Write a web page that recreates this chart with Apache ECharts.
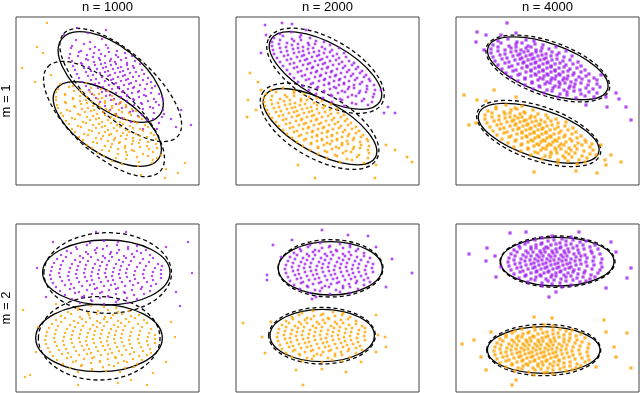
<!DOCTYPE html>
<html>
<head>
<meta charset="utf-8">
<script src="https://cdn.jsdelivr.net/npm/echarts@6/dist/echarts.min.js"></script>
<style>
  html, body { margin: 0; padding: 0; background: #fff; }
  #chart { width: 640px; height: 393px; }
</style>
</head>
<body>
<div id="chart"></div>
<script>
// panel labels
const colLabels = ["n = 1000", "n = 2000", "n = 4000"];
const rowLabels = ["m = 1", "m = 2"];

// points, panel units (x 0..183, y 0..168)
const pur_m1_n1000 = [[60,145],[74,143],[86,146],[56,139],[68,141],[79,138],[90,140],[55,137],[65,134],[74,136],[83,135],[92,137],[101,134],[54,131],[63,133],[71,130],[78,132],[85,131],[93,133],[100,130],[109,132],[53,127],[62,129],[70,126],[77,128],[83,127],[89,129],[95,126],[102,128],[110,127],[116,129],[56,124],[65,122],[72,125],[78,123],[84,125],[89,122],[94,124],[99,123],[105,125],[111,122],[119,124],[57,119],[66,121],[73,118],[79,120],[85,121],[90,118],[95,120],[100,121],[105,118],[111,120],[117,119],[124,121],[59,115],[68,117],[75,114],[81,116],[87,117],[92,114],[97,116],[102,117],[107,114],[112,116],[118,117],[126,115],[61,111],[70,113],[77,110],[84,112],[89,113],[94,110],[99,112],[104,113],[109,110],[114,112],[120,113],[128,111],[63,107],[72,109],[80,106],[86,108],[92,109],[97,106],[102,108],[107,109],[112,106],[117,108],[123,109],[132,107],[66,103],[75,105],[83,102],[89,104],[95,105],[100,102],[105,104],[110,105],[115,102],[120,104],[127,105],[135,103],[70,99],[79,101],[87,98],[93,100],[98,101],[103,98],[108,100],[113,101],[118,98],[124,100],[131,101],[139,99],[73,95],[82,97],[90,94],[96,96],[102,97],[107,94],[112,96],[117,97],[123,94],[129,96],[136,97],[76,91],[86,93],[94,90],[100,92],[106,93],[111,90],[116,92],[122,93],[128,90],[135,92],[143,91],[80,87],[90,89],[98,86],[105,88],[111,89],[117,86],[123,88],[130,89],[138,86],[146,88],[84,83],[95,85],[104,82],[111,84],[118,85],[125,82],[132,84],[140,83],[147,85],[89,79],[100,81],[110,78],[118,80],[126,81],[134,78],[143,80],[94,75],[106,77],[117,74],[127,76],[137,77],[147,75],[100,71],[114,73],[126,70],[138,72],[148,71],[106,67],[122,69],[137,66],[146,68],[115,63],[131,65],[143,62],[175,60],[61,157],[72,152],[160,58],[155,66],[48,150],[127,56],[141,56],[165,75],[90,155]];
const org_m1_n1000 = [[44,101],[57,99],[70,102],[42,96],[53,98],[64,95],[75,97],[85,96],[40,93],[49,91],[58,94],[66,92],[74,93],[83,91],[92,94],[40,88],[49,90],[57,87],[64,89],[71,88],[78,90],[86,87],[96,89],[40,85],[49,83],[57,86],[64,84],[70,85],[76,83],[82,86],[89,84],[97,85],[105,83],[41,80],[50,82],[58,79],[65,81],[71,82],[77,79],[83,81],[89,82],[96,79],[103,81],[110,80],[42,77],[51,75],[59,78],[66,76],[72,77],[78,75],[84,78],[90,76],[96,77],[103,75],[110,78],[116,76],[45,72],[54,74],[62,71],[69,73],[75,74],[81,71],[87,73],[93,74],[99,71],[106,73],[113,72],[120,74],[47,69],[56,67],[64,70],[71,68],[77,69],[83,67],[89,70],[95,68],[101,69],[108,67],[115,70],[123,68],[50,64],[59,66],[67,63],[74,65],[80,66],[86,63],[92,65],[98,66],[104,63],[111,65],[118,64],[126,66],[53,61],[62,59],[70,62],[77,60],[83,61],[89,59],[95,62],[101,60],[107,61],[114,59],[121,62],[129,60],[56,56],[65,58],[73,55],[80,57],[86,58],[92,55],[98,57],[104,58],[110,55],[117,57],[124,56],[132,58],[59,53],[68,51],[76,54],[83,52],[89,53],[95,51],[101,54],[107,52],[113,53],[120,51],[127,54],[135,52],[63,48],[72,50],[80,47],[87,49],[93,50],[99,47],[105,49],[111,50],[117,47],[124,49],[131,48],[138,50],[67,45],[77,43],[85,46],[92,44],[98,45],[104,43],[110,46],[117,44],[124,45],[132,43],[140,46],[71,40],[81,42],[89,39],[96,41],[103,42],[109,39],[116,41],[123,42],[131,39],[140,41],[76,37],[86,35],[95,38],[102,36],[109,37],[116,35],[124,38],[133,36],[141,37],[82,32],[93,34],[102,31],[110,33],[118,34],[127,31],[137,33],[88,29],[100,27],[111,30],[121,28],[132,29],[141,27],[96,24],[110,26],[123,23],[137,25],[106,21],[122,19],[136,22],[31,162],[6,117],[21,138],[19,103],[27,132],[149,7],[169,22],[162,12],[150,16],[35,110],[125,10],[145,30]];
const pur_m1_n2000 = [[44,151],[55,153],[65,150],[38,147],[47,149],[56,146],[64,148],[74,147],[36,143],[44,145],[51,142],[58,144],[65,145],[72,142],[80,144],[88,143],[36,139],[43,141],[50,138],[56,140],[62,141],[67,138],[73,140],[79,141],[86,138],[94,140],[37,135],[44,137],[51,134],[57,136],[62,137],[67,134],[72,136],[77,137],[83,134],[89,136],[96,135],[103,137],[38,131],[45,133],[52,130],[58,132],[63,133],[68,130],[73,132],[78,133],[83,130],[88,132],[94,133],[101,131],[108,132],[41,127],[48,129],[55,126],[61,128],[66,129],[71,126],[76,128],[81,129],[86,126],[91,128],[97,129],[103,127],[110,128],[44,123],[51,125],[58,122],[64,124],[69,125],[74,122],[79,124],[84,125],[89,122],[94,124],[100,125],[106,123],[113,124],[118,122],[47,119],[54,121],[61,118],[67,120],[72,121],[77,118],[82,120],[87,121],[92,118],[97,120],[103,121],[109,119],[116,120],[122,118],[51,115],[58,117],[65,114],[71,116],[76,117],[81,114],[86,116],[91,117],[96,114],[101,116],[107,117],[113,115],[120,116],[126,114],[54,111],[62,113],[69,110],[75,112],[80,113],[85,110],[90,112],[95,113],[100,110],[105,112],[111,113],[117,111],[124,112],[130,110],[58,107],[66,109],[73,106],[79,108],[84,109],[89,106],[94,108],[99,109],[104,106],[109,108],[115,109],[121,107],[128,108],[133,106],[62,103],[70,105],[77,102],[83,104],[88,105],[93,102],[98,104],[103,105],[108,102],[113,104],[119,105],[126,103],[134,104],[67,99],[75,101],[82,98],[88,100],[93,101],[98,98],[103,100],[108,101],[113,98],[118,100],[124,101],[131,99],[138,100],[73,95],[81,97],[88,94],[94,96],[100,97],[106,94],[112,96],[118,97],[124,94],[131,96],[139,95],[80,91],[88,93],[95,90],[102,92],[109,93],[116,90],[123,92],[130,93],[138,91],[87,87],[96,89],[104,86],[112,88],[120,89],[128,86],[137,88],[96,83],[106,85],[116,82],[126,84],[136,83],[108,79],[120,81],[132,80],[29,160],[46,162],[56,161],[159,72],[152,78],[25,132],[70,155],[148,72],[30,150],[145,95]];
const org_m1_n2000 = [[35,95],[47,97],[58,94],[30,91],[40,93],[49,90],[58,92],[68,91],[28,87],[36,89],[44,86],[51,88],[58,89],[65,86],[73,88],[81,87],[28,83],[35,85],[42,82],[48,84],[54,85],[59,82],[65,84],[71,85],[78,82],[86,84],[29,79],[36,81],[43,78],[49,80],[54,81],[59,78],[64,80],[69,81],[75,78],[81,80],[89,79],[95,81],[31,75],[38,77],[45,74],[51,76],[56,77],[61,74],[66,76],[71,77],[76,74],[81,76],[87,77],[94,75],[101,76],[33,71],[40,73],[47,70],[53,72],[58,73],[63,70],[68,72],[73,73],[78,70],[83,72],[89,73],[95,71],[102,72],[108,70],[36,67],[43,69],[50,66],[56,68],[61,69],[66,66],[71,68],[76,69],[81,66],[86,68],[92,69],[98,67],[105,68],[111,66],[40,63],[47,65],[54,62],[60,64],[65,65],[70,62],[75,64],[80,65],[85,62],[90,64],[96,65],[102,63],[109,64],[115,62],[43,59],[50,61],[57,58],[63,60],[68,61],[73,58],[78,60],[83,61],[88,58],[93,60],[99,61],[105,59],[112,60],[120,58],[47,55],[54,57],[61,54],[67,56],[72,57],[77,54],[82,56],[87,57],[92,54],[97,56],[103,57],[109,55],[116,56],[123,54],[51,51],[58,53],[65,50],[71,52],[76,53],[81,50],[86,52],[91,53],[96,50],[101,52],[107,53],[113,51],[120,52],[127,50],[56,47],[63,49],[70,46],[76,48],[81,49],[86,46],[91,48],[96,49],[101,46],[106,48],[112,49],[118,47],[125,48],[131,46],[61,43],[68,45],[75,42],[81,44],[86,45],[91,42],[96,44],[101,45],[106,42],[111,44],[117,45],[124,43],[132,44],[67,39],[75,41],[82,38],[88,40],[94,41],[100,38],[106,40],[112,41],[118,38],[125,40],[133,39],[74,35],[82,37],[89,34],[96,36],[103,37],[110,34],[117,36],[124,37],[132,35],[82,31],[91,33],[99,30],[107,32],[115,33],[123,30],[133,32],[91,27],[101,29],[111,26],[121,28],[132,27],[104,23],[116,25],[128,22],[14,112],[22,103],[11,68],[12,85],[159,35],[171,28],[176,23],[79,7],[62,20],[139,7],[20,75],[140,20],[150,40],[25,95]];
const pur_m1_n4000 = [[42,144],[52,146],[61,143],[70,145],[78,144],[37,140],[45,142],[53,139],[60,141],[66,142],[72,139],[79,141],[87,140],[35,136],[42,138],[49,135],[55,137],[60,138],[65,135],[70,137],[75,138],[80,135],[86,137],[93,136],[100,138],[35,132],[42,134],[49,131],[55,133],[60,134],[64,131],[68,133],[72,134],[76,131],[80,133],[85,134],[90,131],[96,133],[103,132],[110,134],[37,128],[44,130],[51,127],[57,129],[62,130],[66,127],[70,129],[74,130],[78,127],[82,129],[86,130],[90,127],[95,129],[101,130],[108,128],[116,129],[39,124],[46,126],[53,123],[59,125],[64,126],[68,123],[72,125],[76,126],[80,123],[84,125],[88,126],[92,123],[96,125],[101,126],[107,124],[114,125],[122,123],[42,120],[49,122],[56,119],[62,121],[67,122],[71,119],[75,121],[79,122],[83,119],[87,121],[91,122],[95,119],[99,121],[104,122],[110,120],[117,121],[125,119],[46,116],[53,118],[60,115],[66,117],[71,118],[75,115],[79,117],[83,118],[87,115],[91,117],[95,118],[99,115],[103,117],[108,118],[114,116],[121,117],[129,115],[50,112],[57,114],[64,111],[70,113],[75,114],[79,111],[83,113],[87,114],[91,111],[95,113],[99,114],[103,111],[107,113],[112,114],[118,112],[125,113],[133,111],[55,108],[62,110],[69,107],[75,109],[80,110],[84,107],[88,109],[92,110],[96,107],[100,109],[104,110],[108,107],[112,109],[117,110],[123,108],[130,109],[138,107],[62,104],[69,106],[76,103],[82,105],[87,106],[91,103],[95,105],[99,106],[103,103],[107,105],[111,106],[115,103],[120,105],[126,106],[133,104],[141,105],[69,100],[76,102],[83,99],[89,101],[94,102],[99,99],[104,101],[109,102],[114,99],[119,101],[125,102],[132,100],[141,101],[77,96],[84,98],[91,95],[97,97],[103,98],[108,95],[113,97],[118,98],[124,95],[130,97],[137,96],[144,98],[88,92],[96,94],[104,91],[111,93],[118,94],[125,91],[133,93],[141,92],[102,88],[111,90],[120,87],[129,89],[138,88],[21,153],[20,143],[51,162],[175,65],[163,86],[151,78],[30,150],[150,88],[160,92],[28,135],[45,150],[130,80],[60,152],[145,110],[170,78]];
const org_m1_n4000 = [[40,78],[50,80],[59,77],[66,79],[32,74],[40,76],[48,73],[55,75],[61,76],[68,73],[77,75],[29,70],[36,72],[43,69],[49,71],[54,72],[59,69],[64,71],[69,72],[75,69],[82,71],[90,70],[29,66],[36,68],[43,65],[49,67],[54,68],[58,65],[62,67],[66,68],[70,65],[74,67],[79,68],[85,65],[92,67],[100,66],[31,62],[38,64],[45,61],[51,63],[56,64],[60,61],[64,63],[68,64],[72,61],[76,63],[80,64],[84,61],[89,63],[95,64],[102,62],[110,63],[34,58],[41,60],[48,57],[54,59],[59,60],[63,57],[67,59],[71,60],[75,57],[79,59],[83,60],[87,57],[91,59],[96,60],[102,58],[109,59],[117,57],[37,54],[44,56],[51,53],[57,55],[62,56],[66,53],[70,55],[74,56],[78,53],[82,55],[86,56],[90,53],[94,55],[99,56],[105,54],[112,55],[120,53],[41,50],[48,52],[55,49],[61,51],[66,52],[70,49],[74,51],[78,52],[82,49],[86,51],[90,52],[94,49],[98,51],[103,52],[109,50],[116,51],[125,49],[46,46],[53,48],[60,45],[66,47],[71,48],[75,45],[79,47],[83,48],[87,45],[91,47],[95,48],[99,45],[103,47],[108,48],[114,46],[121,47],[129,45],[52,42],[59,44],[66,41],[72,43],[77,44],[81,41],[85,43],[89,44],[93,41],[97,43],[101,44],[105,41],[110,43],[116,44],[122,42],[130,43],[136,41],[58,38],[65,40],[72,37],[78,39],[83,40],[87,37],[91,39],[95,40],[99,37],[103,39],[108,40],[113,37],[119,39],[126,40],[134,38],[65,34],[72,36],[79,33],[85,35],[90,36],[95,33],[100,35],[105,36],[110,33],[115,35],[121,36],[128,34],[137,35],[75,30],[82,32],[89,29],[95,31],[101,32],[107,29],[113,31],[119,32],[126,29],[134,31],[140,30],[86,26],[94,28],[102,25],[109,27],[116,28],[123,25],[131,27],[102,22],[112,24],[121,21],[129,23],[8,90],[13,60],[38,95],[165,23],[149,25],[141,12],[78,13],[21,85],[30,84],[145,40],[155,30],[20,62],[60,88],[120,14],[150,20]];
const pur_m2_n1000 = [[74,149],[88,151],[102,150],[60,145],[71,147],[81,144],[91,146],[101,147],[112,145],[121,146],[51,141],[61,143],[70,140],[79,142],[87,143],[95,140],[103,142],[112,143],[121,141],[130,142],[45,137],[55,139],[64,136],[72,138],[80,139],[87,136],[94,138],[101,139],[108,136],[116,138],[125,139],[134,137],[41,133],[50,135],[59,132],[67,134],[75,135],[82,132],[89,134],[96,135],[103,132],[110,134],[118,135],[127,133],[137,134],[38,129],[47,131],[56,128],[64,130],[72,131],[79,128],[86,130],[93,131],[100,128],[107,130],[115,131],[124,129],[133,130],[142,128],[36,125],[45,127],[54,124],[62,126],[70,127],[77,124],[84,126],[91,127],[98,124],[105,126],[113,127],[121,125],[130,126],[139,124],[146,126],[35,121],[44,123],[53,120],[61,122],[69,123],[76,120],[83,122],[90,123],[97,120],[104,122],[111,123],[119,121],[128,122],[137,120],[145,122],[34,117],[43,119],[52,116],[60,118],[68,119],[75,116],[82,118],[89,119],[96,116],[103,118],[110,119],[118,117],[127,118],[136,116],[145,118],[35,113],[44,115],[53,112],[61,114],[69,115],[76,112],[83,114],[90,115],[97,112],[104,114],[111,115],[119,113],[128,114],[137,112],[145,114],[37,109],[46,111],[55,108],[63,110],[71,111],[78,108],[85,110],[92,111],[99,108],[106,110],[114,111],[122,109],[131,110],[140,108],[40,105],[49,107],[58,104],[66,106],[74,107],[81,104],[88,106],[95,107],[102,104],[109,106],[117,107],[126,105],[135,106],[44,101],[54,103],[63,100],[71,102],[79,103],[86,100],[93,102],[100,103],[108,100],[116,102],[125,103],[134,101],[49,97],[59,99],[68,96],[76,98],[84,99],[92,96],[100,98],[109,99],[118,97],[128,98],[56,93],[66,95],[75,92],[84,94],[93,95],[102,92],[111,94],[121,93],[64,89],[76,91],[88,88],[100,90],[112,89],[172,150],[176,119],[164,86],[21,124],[37,150],[80,160],[110,160],[160,100],[30,95],[150,145]];
const org_m2_n1000 = [[62,84],[75,86],[88,85],[100,84],[52,80],[62,82],[72,79],[82,81],[92,82],[102,80],[113,81],[45,76],[55,78],[64,75],[73,77],[81,78],[89,75],[97,77],[106,78],[115,76],[123,77],[40,72],[49,74],[58,71],[66,73],[74,74],[81,71],[88,73],[95,74],[102,71],[110,73],[119,74],[128,72],[36,68],[45,70],[54,67],[62,69],[70,70],[77,67],[84,69],[91,70],[98,67],[105,69],[113,70],[122,68],[131,69],[33,64],[42,66],[51,63],[59,65],[67,66],[74,63],[81,65],[88,66],[95,63],[102,65],[109,66],[117,64],[126,65],[135,63],[31,60],[40,62],[49,59],[57,61],[65,62],[72,59],[79,61],[86,62],[93,59],[100,61],[107,62],[115,60],[124,61],[133,59],[30,56],[39,58],[48,55],[56,57],[64,58],[71,55],[78,57],[85,58],[92,55],[99,57],[106,58],[114,56],[123,57],[132,55],[139,57],[29,52],[38,54],[47,51],[55,53],[63,54],[70,51],[77,53],[84,54],[91,51],[98,53],[105,54],[113,52],[122,53],[131,51],[139,53],[30,48],[39,50],[48,47],[56,49],[64,50],[71,47],[78,49],[85,50],[92,47],[99,49],[106,50],[114,48],[123,49],[132,47],[139,49],[32,44],[41,46],[50,43],[58,45],[66,46],[73,43],[80,45],[87,46],[94,43],[101,45],[108,46],[116,44],[125,45],[134,43],[34,40],[43,42],[52,39],[60,41],[68,42],[75,39],[82,41],[89,42],[96,39],[103,41],[110,42],[118,40],[127,41],[135,39],[37,36],[46,38],[55,35],[63,37],[71,38],[78,35],[85,37],[92,38],[99,35],[106,37],[114,38],[123,36],[131,37],[41,32],[51,34],[60,31],[68,33],[76,34],[84,31],[92,33],[100,34],[108,31],[117,33],[126,32],[47,28],[57,30],[66,27],[75,29],[84,30],[93,27],[102,29],[111,30],[121,28],[54,24],[65,26],[76,23],[87,25],[98,26],[109,24],[118,25],[62,20],[76,22],[90,21],[104,20],[7,82],[9,15],[14,17],[159,55],[62,7],[131,7],[137,19],[102,9],[20,40],[40,88],[150,30],[155,70],[22,65],[115,12]];
const pur_m2_n2000 = [[74,147],[84,149],[94,146],[104,148],[114,147],[64,143],[72,145],[79,142],[86,144],[93,145],[100,142],[107,144],[114,145],[122,143],[58,139],[65,141],[71,138],[77,140],[83,141],[89,138],[95,140],[101,141],[107,138],[113,140],[120,141],[128,139],[54,135],[61,137],[67,134],[73,136],[79,137],[85,134],[91,136],[97,137],[103,134],[109,136],[115,137],[121,135],[128,136],[134,134],[52,131],[59,133],[65,130],[71,132],[77,133],[83,130],[89,132],[95,133],[101,130],[107,132],[113,133],[119,131],[125,132],[132,130],[50,127],[57,129],[63,126],[69,128],[75,129],[81,126],[87,128],[93,129],[99,126],[105,128],[111,129],[117,127],[123,128],[130,126],[137,128],[49,123],[56,125],[62,122],[68,124],[74,125],[80,122],[86,124],[92,125],[98,122],[104,124],[110,125],[116,123],[122,124],[129,122],[136,124],[50,119],[57,121],[63,118],[69,120],[75,121],[81,118],[87,120],[93,121],[99,118],[105,120],[111,121],[117,119],[123,120],[130,118],[137,120],[52,115],[59,117],[65,114],[71,116],[77,117],[83,114],[89,116],[95,117],[101,114],[107,116],[113,117],[119,115],[125,116],[132,114],[54,111],[61,113],[67,110],[73,112],[79,113],[85,110],[91,112],[97,113],[103,110],[109,112],[115,113],[121,111],[128,112],[134,110],[58,107],[65,109],[71,106],[77,108],[83,109],[89,106],[95,108],[101,109],[107,106],[113,108],[120,109],[128,107],[64,103],[72,105],[79,102],[86,104],[93,105],[100,102],[107,104],[114,105],[122,103],[74,99],[84,101],[94,98],[104,100],[114,99],[37,147],[31,117],[31,112],[56,152],[86,162],[112,157],[132,156],[176,119],[156,133],[76,93],[45,135],[150,105],[80,95],[140,145]];
const org_m2_n2000 = [[66,79],[77,81],[87,78],[97,80],[107,79],[56,75],[63,77],[71,74],[78,76],[85,77],[92,74],[99,76],[106,77],[114,75],[50,71],[57,73],[63,70],[69,72],[75,73],[81,70],[87,72],[93,73],[99,70],[105,72],[112,73],[120,71],[46,67],[53,69],[59,66],[65,68],[71,69],[77,66],[83,68],[89,69],[95,66],[101,68],[107,69],[113,67],[120,68],[126,66],[43,63],[50,65],[56,62],[62,64],[68,65],[74,62],[80,64],[86,65],[92,62],[98,64],[104,65],[110,63],[116,64],[123,62],[129,64],[42,59],[49,61],[55,58],[61,60],[67,61],[73,58],[79,60],[85,61],[91,58],[97,60],[103,61],[109,59],[115,60],[122,58],[129,60],[41,55],[48,57],[54,54],[60,56],[66,57],[72,54],[78,56],[84,57],[90,54],[96,56],[102,57],[108,55],[114,56],[121,54],[128,56],[42,51],[49,53],[55,50],[61,52],[67,53],[73,50],[79,52],[85,53],[91,50],[97,52],[103,53],[109,51],[115,52],[122,50],[129,52],[44,47],[51,49],[57,46],[63,48],[69,49],[75,46],[81,48],[87,49],[93,46],[99,48],[105,49],[111,47],[117,48],[124,46],[46,43],[53,45],[59,42],[65,44],[71,45],[77,42],[83,44],[89,45],[95,42],[101,44],[107,45],[113,43],[120,44],[126,42],[50,39],[57,41],[63,38],[69,40],[75,41],[81,38],[87,40],[93,41],[99,38],[105,40],[112,41],[120,39],[56,35],[64,37],[71,34],[78,36],[85,37],[92,34],[99,36],[106,37],[114,35],[66,31],[76,33],[86,30],[96,32],[106,31],[7,69],[67,7],[86,23],[142,57],[149,55],[29,39],[140,77],[26,55],[35,70],[125,30],[150,45],[60,22],[110,20],[140,40]];
const pur_m2_n4000 = [[86,154],[96,156],[106,153],[115,155],[72,150],[79,152],[86,149],[92,151],[98,152],[104,149],[110,151],[117,152],[124,150],[130,151],[63,146],[69,148],[75,145],[80,147],[85,148],[90,145],[95,147],[100,148],[105,145],[110,147],[115,148],[121,146],[127,147],[134,145],[139,147],[58,142],[64,144],[70,141],[75,143],[80,144],[84,141],[88,143],[92,144],[96,141],[100,143],[104,144],[108,141],[112,143],[117,144],[122,142],[128,143],[135,141],[142,143],[55,138],[61,140],[67,137],[72,139],[77,140],[81,137],[85,139],[89,140],[93,137],[97,139],[101,140],[105,137],[109,139],[113,140],[118,138],[123,139],[129,137],[136,139],[144,138],[53,134],[59,136],[65,133],[70,135],[75,136],[79,133],[83,135],[87,136],[91,133],[95,135],[99,136],[103,133],[107,135],[111,136],[115,133],[120,135],[125,136],[131,134],[138,135],[146,133],[52,130],[58,132],[64,129],[69,131],[74,132],[78,129],[82,131],[86,132],[90,129],[94,131],[98,132],[102,129],[106,131],[110,132],[114,129],[119,131],[124,132],[130,130],[137,131],[145,129],[53,126],[59,128],[65,125],[70,127],[75,128],[79,125],[83,127],[87,128],[91,125],[95,127],[99,128],[103,125],[107,127],[111,128],[115,125],[120,127],[125,128],[131,126],[138,127],[146,125],[55,122],[61,124],[67,121],[72,123],[77,124],[81,121],[85,123],[89,124],[93,121],[97,123],[101,124],[105,121],[109,123],[113,124],[118,122],[123,123],[129,121],[136,123],[144,122],[58,118],[64,120],[70,117],[75,119],[80,120],[84,117],[88,119],[92,120],[96,117],[100,119],[104,120],[108,117],[112,119],[117,120],[122,118],[128,119],[135,117],[142,119],[63,114],[69,116],[75,113],[80,115],[85,116],[90,113],[95,115],[100,116],[105,113],[110,115],[115,116],[121,114],[127,115],[134,113],[139,115],[72,110],[79,112],[86,109],[92,111],[98,112],[104,109],[110,111],[117,112],[124,110],[130,111],[86,106],[96,108],[106,105],[115,107],[13,138],[30,131],[31,144],[54,159],[93,95],[171,114],[175,124],[123,160],[150,104],[39,136],[45,125],[160,140],[40,115],[155,150],[100,100],[70,160]];
const org_m2_n4000 = [[78,65],[88,67],[97,66],[59,61],[66,63],[73,60],[79,62],[85,63],[91,60],[97,62],[104,63],[110,61],[116,62],[50,57],[56,59],[62,56],[67,58],[72,59],[77,56],[82,58],[87,59],[92,56],[97,58],[102,59],[108,57],[114,58],[120,56],[125,58],[44,53],[50,55],[56,52],[61,54],[66,55],[70,52],[74,54],[78,55],[82,52],[86,54],[90,55],[94,52],[98,54],[103,55],[108,53],[114,54],[121,52],[129,54],[41,49],[47,51],[53,48],[58,50],[63,51],[67,48],[71,50],[75,51],[79,48],[83,50],[87,51],[91,48],[95,50],[99,51],[103,48],[108,50],[113,51],[119,49],[126,50],[133,48],[39,45],[45,47],[51,44],[56,46],[61,47],[65,44],[69,46],[73,47],[77,44],[81,46],[85,47],[89,44],[93,46],[97,47],[101,44],[106,46],[111,47],[117,45],[124,46],[132,44],[38,41],[44,43],[50,40],[55,42],[60,43],[64,40],[68,42],[72,43],[76,40],[80,42],[84,43],[88,40],[92,42],[96,43],[100,40],[105,42],[110,43],[116,41],[123,42],[131,40],[39,37],[45,39],[51,36],[56,38],[61,39],[65,36],[69,38],[73,39],[77,36],[81,38],[85,39],[89,36],[93,38],[97,39],[101,36],[106,38],[111,39],[117,37],[124,38],[132,36],[41,33],[47,35],[53,32],[58,34],[63,35],[67,32],[71,34],[75,35],[79,32],[83,34],[87,35],[91,32],[95,34],[99,35],[103,32],[108,34],[113,35],[119,33],[126,34],[133,32],[44,29],[50,31],[56,28],[61,30],[66,31],[70,28],[74,30],[78,31],[82,28],[86,30],[90,31],[94,28],[98,30],[103,31],[108,29],[114,30],[121,28],[129,30],[50,25],[56,27],[62,24],[67,26],[72,27],[77,24],[82,26],[87,27],[92,24],[97,26],[102,27],[108,25],[114,26],[120,24],[125,26],[59,21],[66,23],[73,20],[79,22],[85,23],[91,20],[97,22],[104,23],[110,21],[116,22],[78,17],[88,19],[97,18],[6,48],[18,52],[78,75],[96,74],[148,72],[171,59],[175,24],[56,7],[158,45],[30,22],[25,35],[150,60],[140,25],[60,12],[160,35],[35,60]];

// ellipses: [cx, cy, semi-major, semi-minor, angle deg, dashed]
const ell_m1_n1000 = [[94.7,108,62,31,-38,0],[104.7,100,76.7,32,-42,1],[91.3,61,62,29.4,-34,0],[88,66,76.7,33,-43,1]];
const ell_m1_n2000 = [[89.5,114.5,62.7,27,-29.5,0],[89.5,114.2,65.3,31.6,-30,1],[84,58.3,63.3,25.9,-29,0],[83.5,58.7,66,32,-30,1]];
const ell_m1_n4000 = [[91.8,116.7,63.3,24.7,-19.5,0],[91.8,116.5,65,27,-19.5,1],[82.7,51.7,63,23.9,-18,0],[82.7,51.5,65,27,-19,1]];
const ell_m2_n1000 = [[90.3,119.5,63.7,32.5,0,0],[91.7,119,63.8,40.3,0,1],[83,54,63.3,33.7,0,0],[83.2,53.7,60.8,41.7,0,1]];
const ell_m2_n2000 = [[94.3,123.7,52,26.7,0,0],[94.5,123.7,52.5,28.7,0,1],[86.2,56.5,52.2,26.2,0,0],[86,56.3,53.3,28.3,0,1]];
const ell_m2_n4000 = [[101.3,130.3,56.7,24.3,0,0],[101.5,130.3,57.5,25.7,0,1],[87.7,42,56.3,23.3,0,0],[87.7,42,57,25.7,0,1]];

const panels = [
  { pur: pur_m1_n1000, org: org_m1_n1000, ell: ell_m1_n1000 },
  { pur: pur_m1_n2000, org: org_m1_n2000, ell: ell_m1_n2000 },
  { pur: pur_m1_n4000, org: org_m1_n4000, ell: ell_m1_n4000 },
  { pur: pur_m2_n1000, org: org_m2_n1000, ell: ell_m2_n1000 },
  { pur: pur_m2_n2000, org: org_m2_n2000, ell: ell_m2_n2000 },
  { pur: pur_m2_n4000, org: org_m2_n4000, ell: ell_m2_n4000 },
];

const W = 183, H = 168;
const lefts = [16, 236, 456];
const tops = [17, 224];
const dotSize = [2.2, 2.6, 3.2];

function renderEllipse(params, api) {
  const c = api.coord([api.value(0), api.value(1)]);
  const s = api.size([api.value(2), api.value(3)]);
  return {
    type: "ellipse",
    x: c[0],
    y: c[1],
    rotation: (api.value(4) * Math.PI) / 180,
    shape: { cx: 0, cy: 0, rx: s[0], ry: s[1] },
    style: {
      fill: "none",
      stroke: "#000",
      lineWidth: 1.3,
      lineDash: api.value(5) ? [4, 3] : null,
    },
  };
}

const grid = [], xAxis = [], yAxis = [], series = [];
panels.forEach(function (p, i) {
  const col = i % 3, row = Math.floor(i / 3);
  grid.push({
    left: lefts[col], top: tops[row], width: W, height: H,
    show: true, borderColor: "#444", borderWidth: 1, backgroundColor: "transparent",
  });
  xAxis.push({ gridIndex: i, type: "value", min: 0, max: W, show: false });
  yAxis.push({ gridIndex: i, type: "value", min: 0, max: H, show: false });
  series.push({
    type: "scatter", xAxisIndex: i, yAxisIndex: i, data: p.pur,
    symbol: "rect", symbolSize: dotSize[col], itemStyle: { color: "#A020F0" }, silent: true,
  });
  series.push({
    type: "scatter", xAxisIndex: i, yAxisIndex: i, data: p.org,
    symbol: "rect", symbolSize: dotSize[col], itemStyle: { color: "#FFA500" }, silent: true,
  });
  series.push({
    type: "custom", xAxisIndex: i, yAxisIndex: i, data: p.ell,
    renderItem: renderEllipse, silent: true, clip: false,
  });
});

const graphic = [];
colLabels.forEach(function (t, c) {
  graphic.push({
    type: "text", x: lefts[c] + W / 2, y: 7,
    style: { text: t, font: '13px "Liberation Sans", Arial, sans-serif', fill: "#000",
             align: "center", verticalAlign: "middle", textAlign: "center", textVerticalAlign: "middle" },
  });
});
rowLabels.forEach(function (t, r) {
  graphic.push({
    type: "text", x: 6, y: tops[r] + H / 2, rotation: Math.PI / 2,
    style: { text: t, font: '13px "Liberation Sans", Arial, sans-serif', fill: "#000",
             align: "center", verticalAlign: "middle", textAlign: "center", textVerticalAlign: "middle" },
  });
});

const chart = echarts.init(document.getElementById("chart"));
chart.setOption({
  animation: false,
  backgroundColor: "#fff",
  grid: grid,
  xAxis: xAxis,
  yAxis: yAxis,
  series: series,
  graphic: graphic,
});
</script>
</body>
</html>
